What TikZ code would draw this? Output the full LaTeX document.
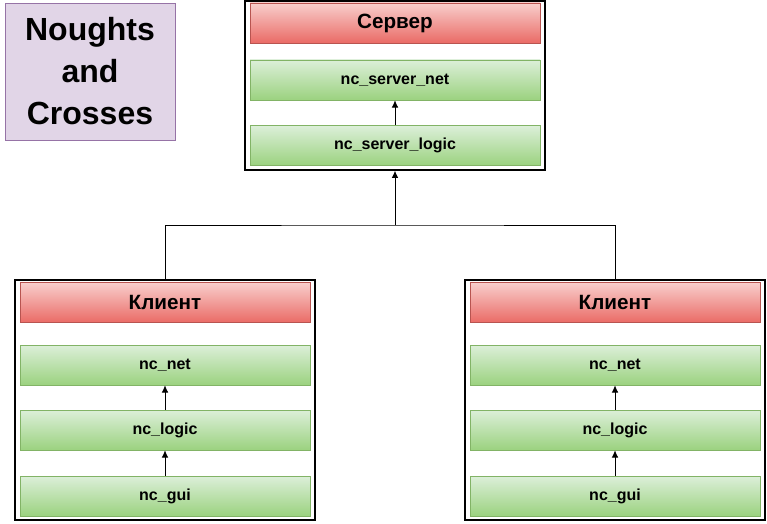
\documentclass[tikz,border=0pt]{standalone}
\usepackage{fontspec}
\setmainfont{Liberation Sans}
\usetikzlibrary{arrows.meta}

\definecolor{hdtop}{HTML}{F8CECC}
\definecolor{hdbot}{HTML}{EA6B66}
\definecolor{hdline}{HTML}{B85450}
\definecolor{modtop}{HTML}{DCEFD9}
\definecolor{modbot}{HTML}{9BD27F}
\definecolor{modline}{HTML}{82B366}
\definecolor{titlefill}{HTML}{E1D5E7}
\definecolor{titleline}{HTML}{9673A6}

\tikzset{
  outerbox/.style={draw, fill=white, line width=1pt, inner sep=0pt, minimum width=225pt},
  header/.style={draw=hdline, top color=hdtop, bottom color=hdbot, inner sep=0pt,
    minimum width=217.5pt, minimum height=30pt, font=\fontsize{15.5}{18}\selectfont\bfseries},
  module/.style={draw=modline, top color=modtop, bottom color=modbot, inner sep=0pt,
    minimum width=217.5pt, minimum height=30pt, font=\fontsize{12}{14}\selectfont\bfseries},
  link/.style={line width=0.7pt},
  uparrow/.style={line width=0.7pt, -{Latex[length=5.5pt,width=5pt]}},
}

\begin{document}
\begin{tikzpicture}[x=0.75pt,y=-0.75pt]

\useasboundingbox (0,0) rectangle (767,524);

\def \srvx {395}
\def \clax {165}
\def \clbx {615}

% title
\node [draw=titleline, fill=titlefill, inner sep=0pt, minimum width=127.5pt, minimum height=102.75pt,
  align=center, font=\fontsize{24}{31.5}\selectfont\bfseries] (title) at (90,71.5) {Noughts\\and\\Crosses};

% server
\node [outerbox, minimum height=126.75pt] (srv) at (\srvx,85.5) {};
\node [header] (srvhead) at (\srvx,23) {Сервер};
\node [module] (srvnet) at (\srvx,80) {nc\_server\_net};
\node [module] (srvlogic) at (\srvx,145.5) {nc\_server\_logic};
\draw [uparrow] (srvlogic) -- (srvnet);

% client a
\node [outerbox, minimum height=180pt] (cla) at (\clax,400) {};
\node [header] (clahead) at (\clax,302.5) {Клиент};
\node [module] (clanet) at (\clax,365) {nc\_net};
\node [module] (clalogic) at (\clax,430) {nc\_logic};
\node [module] (clagui) at (\clax,496) {nc\_gui};
\draw [uparrow] (clalogic) -- (clanet);
\draw [uparrow] (clagui) -- (clalogic);

% client b
\node [outerbox, minimum height=180pt] (clb) at (\clbx,400) {};
\node [header] (clbhead) at (\clbx,302.5) {Клиент};
\node [module] (clbnet) at (\clbx,365) {nc\_net};
\node [module] (clblogic) at (\clbx,430) {nc\_logic};
\node [module] (clbgui) at (\clbx,496) {nc\_gui};
\draw [uparrow] (clblogic) -- (clbnet);
\draw [uparrow] (clbgui) -- (clblogic);

% links to the server
\coordinate (join) at (\srvx,225);
\draw [link] (cla.north) |- (join) -| (clb.north);
\draw [uparrow] (join) -- (srv.south);

\end{tikzpicture}
\end{document}
